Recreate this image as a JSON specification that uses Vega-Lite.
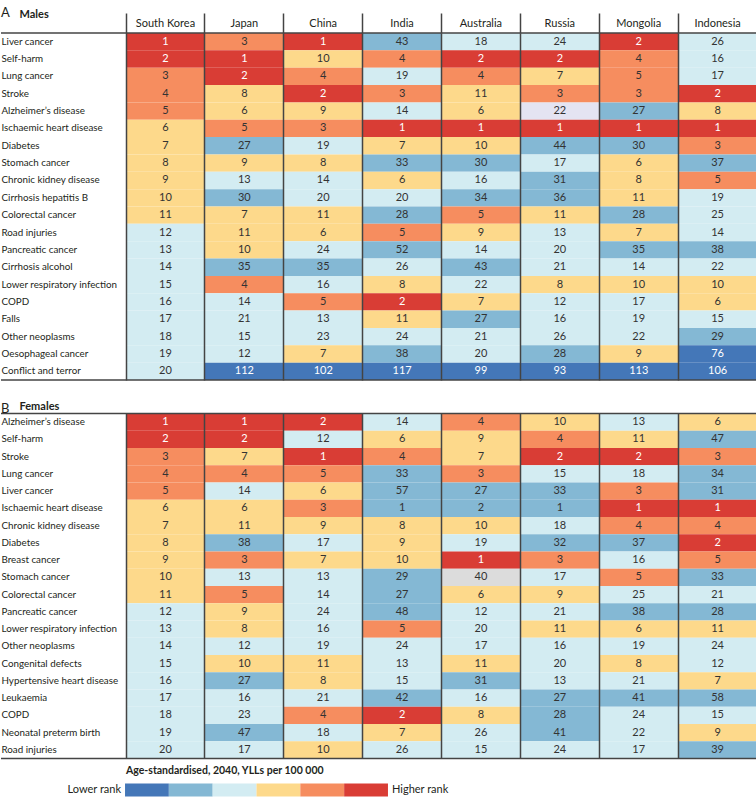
{
"$schema": "https://vega.github.io/schema/vega-lite/v6.json",
"padding": {"top": 7, "left": 0, "right": 0, "bottom": 0},
"config": {"font": "Lato", "view": {"stroke": null}},
"bounds": "flush",
"spacing": 33.5,
"resolve": {"scale": {"x": "independent", "y": "independent", "color": "shared"}},
"datasets": {
"males": [
{"c":"Liver cancer","n":"South Korea","r":1,"l":"R"},{"c":"Liver cancer","n":"Japan","r":3,"l":"O"},{"c":"Liver cancer","n":"China","r":1,"l":"R"},{"c":"Liver cancer","n":"India","r":43,"l":"MB"},{"c":"Liver cancer","n":"Australia","r":18,"l":"LB"},{"c":"Liver cancer","n":"Russia","r":24,"l":"LB"},{"c":"Liver cancer","n":"Mongolia","r":2,"l":"R"},{"c":"Liver cancer","n":"Indonesia","r":26,"l":"LB"},
{"c":"Self-harm","n":"South Korea","r":2,"l":"R"},{"c":"Self-harm","n":"Japan","r":1,"l":"R"},{"c":"Self-harm","n":"China","r":10,"l":"Y"},{"c":"Self-harm","n":"India","r":4,"l":"O"},{"c":"Self-harm","n":"Australia","r":2,"l":"R"},{"c":"Self-harm","n":"Russia","r":2,"l":"R"},{"c":"Self-harm","n":"Mongolia","r":4,"l":"O"},{"c":"Self-harm","n":"Indonesia","r":16,"l":"LB"},
{"c":"Lung cancer","n":"South Korea","r":3,"l":"O"},{"c":"Lung cancer","n":"Japan","r":2,"l":"R"},{"c":"Lung cancer","n":"China","r":4,"l":"O"},{"c":"Lung cancer","n":"India","r":19,"l":"LB"},{"c":"Lung cancer","n":"Australia","r":4,"l":"O"},{"c":"Lung cancer","n":"Russia","r":7,"l":"Y"},{"c":"Lung cancer","n":"Mongolia","r":5,"l":"O"},{"c":"Lung cancer","n":"Indonesia","r":17,"l":"LB"},
{"c":"Stroke","n":"South Korea","r":4,"l":"O"},{"c":"Stroke","n":"Japan","r":8,"l":"Y"},{"c":"Stroke","n":"China","r":2,"l":"R"},{"c":"Stroke","n":"India","r":3,"l":"O"},{"c":"Stroke","n":"Australia","r":11,"l":"Y"},{"c":"Stroke","n":"Russia","r":3,"l":"O"},{"c":"Stroke","n":"Mongolia","r":3,"l":"O"},{"c":"Stroke","n":"Indonesia","r":2,"l":"R"},
{"c":"Alzheimer’s disease","n":"South Korea","r":5,"l":"O"},{"c":"Alzheimer’s disease","n":"Japan","r":6,"l":"Y"},{"c":"Alzheimer’s disease","n":"China","r":9,"l":"Y"},{"c":"Alzheimer’s disease","n":"India","r":14,"l":"LB"},{"c":"Alzheimer’s disease","n":"Australia","r":6,"l":"Y"},{"c":"Alzheimer’s disease","n":"Russia","r":22,"l":"L"},{"c":"Alzheimer’s disease","n":"Mongolia","r":27,"l":"MB"},{"c":"Alzheimer’s disease","n":"Indonesia","r":8,"l":"Y"},
{"c":"Ischaemic heart disease","n":"South Korea","r":6,"l":"Y"},{"c":"Ischaemic heart disease","n":"Japan","r":5,"l":"O"},{"c":"Ischaemic heart disease","n":"China","r":3,"l":"O"},{"c":"Ischaemic heart disease","n":"India","r":1,"l":"R"},{"c":"Ischaemic heart disease","n":"Australia","r":1,"l":"R"},{"c":"Ischaemic heart disease","n":"Russia","r":1,"l":"R"},{"c":"Ischaemic heart disease","n":"Mongolia","r":1,"l":"R"},{"c":"Ischaemic heart disease","n":"Indonesia","r":1,"l":"R"},
{"c":"Diabetes","n":"South Korea","r":7,"l":"Y"},{"c":"Diabetes","n":"Japan","r":27,"l":"MB"},{"c":"Diabetes","n":"China","r":19,"l":"LB"},{"c":"Diabetes","n":"India","r":7,"l":"Y"},{"c":"Diabetes","n":"Australia","r":10,"l":"Y"},{"c":"Diabetes","n":"Russia","r":44,"l":"MB"},{"c":"Diabetes","n":"Mongolia","r":30,"l":"MB"},{"c":"Diabetes","n":"Indonesia","r":3,"l":"O"},
{"c":"Stomach cancer","n":"South Korea","r":8,"l":"Y"},{"c":"Stomach cancer","n":"Japan","r":9,"l":"Y"},{"c":"Stomach cancer","n":"China","r":8,"l":"Y"},{"c":"Stomach cancer","n":"India","r":33,"l":"MB"},{"c":"Stomach cancer","n":"Australia","r":30,"l":"MB"},{"c":"Stomach cancer","n":"Russia","r":17,"l":"LB"},{"c":"Stomach cancer","n":"Mongolia","r":6,"l":"Y"},{"c":"Stomach cancer","n":"Indonesia","r":37,"l":"MB"},
{"c":"Chronic kidney disease","n":"South Korea","r":9,"l":"Y"},{"c":"Chronic kidney disease","n":"Japan","r":13,"l":"LB"},{"c":"Chronic kidney disease","n":"China","r":14,"l":"LB"},{"c":"Chronic kidney disease","n":"India","r":6,"l":"Y"},{"c":"Chronic kidney disease","n":"Australia","r":16,"l":"LB"},{"c":"Chronic kidney disease","n":"Russia","r":31,"l":"MB"},{"c":"Chronic kidney disease","n":"Mongolia","r":8,"l":"Y"},{"c":"Chronic kidney disease","n":"Indonesia","r":5,"l":"O"},
{"c":"Cirrhosis hepatitis B","n":"South Korea","r":10,"l":"Y"},{"c":"Cirrhosis hepatitis B","n":"Japan","r":30,"l":"MB"},{"c":"Cirrhosis hepatitis B","n":"China","r":20,"l":"LB"},{"c":"Cirrhosis hepatitis B","n":"India","r":20,"l":"LB"},{"c":"Cirrhosis hepatitis B","n":"Australia","r":34,"l":"MB"},{"c":"Cirrhosis hepatitis B","n":"Russia","r":36,"l":"MB"},{"c":"Cirrhosis hepatitis B","n":"Mongolia","r":11,"l":"Y"},{"c":"Cirrhosis hepatitis B","n":"Indonesia","r":19,"l":"LB"},
{"c":"Colorectal cancer","n":"South Korea","r":11,"l":"Y"},{"c":"Colorectal cancer","n":"Japan","r":7,"l":"Y"},{"c":"Colorectal cancer","n":"China","r":11,"l":"Y"},{"c":"Colorectal cancer","n":"India","r":28,"l":"MB"},{"c":"Colorectal cancer","n":"Australia","r":5,"l":"O"},{"c":"Colorectal cancer","n":"Russia","r":11,"l":"Y"},{"c":"Colorectal cancer","n":"Mongolia","r":28,"l":"MB"},{"c":"Colorectal cancer","n":"Indonesia","r":25,"l":"LB"},
{"c":"Road injuries","n":"South Korea","r":12,"l":"LB"},{"c":"Road injuries","n":"Japan","r":11,"l":"Y"},{"c":"Road injuries","n":"China","r":6,"l":"Y"},{"c":"Road injuries","n":"India","r":5,"l":"O"},{"c":"Road injuries","n":"Australia","r":9,"l":"Y"},{"c":"Road injuries","n":"Russia","r":13,"l":"LB"},{"c":"Road injuries","n":"Mongolia","r":7,"l":"Y"},{"c":"Road injuries","n":"Indonesia","r":14,"l":"LB"},
{"c":"Pancreatic cancer","n":"South Korea","r":13,"l":"LB"},{"c":"Pancreatic cancer","n":"Japan","r":10,"l":"Y"},{"c":"Pancreatic cancer","n":"China","r":24,"l":"LB"},{"c":"Pancreatic cancer","n":"India","r":52,"l":"MB"},{"c":"Pancreatic cancer","n":"Australia","r":14,"l":"LB"},{"c":"Pancreatic cancer","n":"Russia","r":20,"l":"LB"},{"c":"Pancreatic cancer","n":"Mongolia","r":35,"l":"MB"},{"c":"Pancreatic cancer","n":"Indonesia","r":38,"l":"MB"},
{"c":"Cirrhosis alcohol","n":"South Korea","r":14,"l":"LB"},{"c":"Cirrhosis alcohol","n":"Japan","r":35,"l":"MB"},{"c":"Cirrhosis alcohol","n":"China","r":35,"l":"MB"},{"c":"Cirrhosis alcohol","n":"India","r":26,"l":"LB"},{"c":"Cirrhosis alcohol","n":"Australia","r":43,"l":"MB"},{"c":"Cirrhosis alcohol","n":"Russia","r":21,"l":"LB"},{"c":"Cirrhosis alcohol","n":"Mongolia","r":14,"l":"LB"},{"c":"Cirrhosis alcohol","n":"Indonesia","r":22,"l":"LB"},
{"c":"Lower respiratory infection","n":"South Korea","r":15,"l":"LB"},{"c":"Lower respiratory infection","n":"Japan","r":4,"l":"O"},{"c":"Lower respiratory infection","n":"China","r":16,"l":"LB"},{"c":"Lower respiratory infection","n":"India","r":8,"l":"Y"},{"c":"Lower respiratory infection","n":"Australia","r":22,"l":"LB"},{"c":"Lower respiratory infection","n":"Russia","r":8,"l":"Y"},{"c":"Lower respiratory infection","n":"Mongolia","r":10,"l":"Y"},{"c":"Lower respiratory infection","n":"Indonesia","r":10,"l":"Y"},
{"c":"COPD","n":"South Korea","r":16,"l":"LB"},{"c":"COPD","n":"Japan","r":14,"l":"LB"},{"c":"COPD","n":"China","r":5,"l":"O"},{"c":"COPD","n":"India","r":2,"l":"R"},{"c":"COPD","n":"Australia","r":7,"l":"Y"},{"c":"COPD","n":"Russia","r":12,"l":"LB"},{"c":"COPD","n":"Mongolia","r":17,"l":"LB"},{"c":"COPD","n":"Indonesia","r":6,"l":"Y"},
{"c":"Falls","n":"South Korea","r":17,"l":"LB"},{"c":"Falls","n":"Japan","r":21,"l":"LB"},{"c":"Falls","n":"China","r":13,"l":"LB"},{"c":"Falls","n":"India","r":11,"l":"Y"},{"c":"Falls","n":"Australia","r":27,"l":"MB"},{"c":"Falls","n":"Russia","r":16,"l":"LB"},{"c":"Falls","n":"Mongolia","r":19,"l":"LB"},{"c":"Falls","n":"Indonesia","r":15,"l":"LB"},
{"c":"Other neoplasms","n":"South Korea","r":18,"l":"LB"},{"c":"Other neoplasms","n":"Japan","r":15,"l":"LB"},{"c":"Other neoplasms","n":"China","r":23,"l":"LB"},{"c":"Other neoplasms","n":"India","r":24,"l":"LB"},{"c":"Other neoplasms","n":"Australia","r":21,"l":"LB"},{"c":"Other neoplasms","n":"Russia","r":26,"l":"LB"},{"c":"Other neoplasms","n":"Mongolia","r":22,"l":"LB"},{"c":"Other neoplasms","n":"Indonesia","r":29,"l":"MB"},
{"c":"Oesophageal cancer","n":"South Korea","r":19,"l":"LB"},{"c":"Oesophageal cancer","n":"Japan","r":12,"l":"LB"},{"c":"Oesophageal cancer","n":"China","r":7,"l":"Y"},{"c":"Oesophageal cancer","n":"India","r":38,"l":"MB"},{"c":"Oesophageal cancer","n":"Australia","r":20,"l":"LB"},{"c":"Oesophageal cancer","n":"Russia","r":28,"l":"MB"},{"c":"Oesophageal cancer","n":"Mongolia","r":9,"l":"Y"},{"c":"Oesophageal cancer","n":"Indonesia","r":76,"l":"DB"},
{"c":"Conflict and terror","n":"South Korea","r":20,"l":"LB"},{"c":"Conflict and terror","n":"Japan","r":112,"l":"DB"},{"c":"Conflict and terror","n":"China","r":102,"l":"DB"},{"c":"Conflict and terror","n":"India","r":117,"l":"DB"},{"c":"Conflict and terror","n":"Australia","r":99,"l":"DB"},{"c":"Conflict and terror","n":"Russia","r":93,"l":"DB"},{"c":"Conflict and terror","n":"Mongolia","r":113,"l":"DB"},{"c":"Conflict and terror","n":"Indonesia","r":106,"l":"DB"}
],
"females": [
{"c":"Alzheimer’s disease","n":"South Korea","r":1,"l":"R"},{"c":"Alzheimer’s disease","n":"Japan","r":1,"l":"R"},{"c":"Alzheimer’s disease","n":"China","r":2,"l":"R"},{"c":"Alzheimer’s disease","n":"India","r":14,"l":"LB"},{"c":"Alzheimer’s disease","n":"Australia","r":4,"l":"O"},{"c":"Alzheimer’s disease","n":"Russia","r":10,"l":"Y"},{"c":"Alzheimer’s disease","n":"Mongolia","r":13,"l":"LB"},{"c":"Alzheimer’s disease","n":"Indonesia","r":6,"l":"Y"},
{"c":"Self-harm","n":"South Korea","r":2,"l":"R"},{"c":"Self-harm","n":"Japan","r":2,"l":"R"},{"c":"Self-harm","n":"China","r":12,"l":"LB"},{"c":"Self-harm","n":"India","r":6,"l":"Y"},{"c":"Self-harm","n":"Australia","r":9,"l":"Y"},{"c":"Self-harm","n":"Russia","r":4,"l":"O"},{"c":"Self-harm","n":"Mongolia","r":11,"l":"Y"},{"c":"Self-harm","n":"Indonesia","r":47,"l":"MB"},
{"c":"Stroke","n":"South Korea","r":3,"l":"O"},{"c":"Stroke","n":"Japan","r":7,"l":"Y"},{"c":"Stroke","n":"China","r":1,"l":"R"},{"c":"Stroke","n":"India","r":4,"l":"O"},{"c":"Stroke","n":"Australia","r":7,"l":"Y"},{"c":"Stroke","n":"Russia","r":2,"l":"R"},{"c":"Stroke","n":"Mongolia","r":2,"l":"R"},{"c":"Stroke","n":"Indonesia","r":3,"l":"O"},
{"c":"Lung cancer","n":"South Korea","r":4,"l":"O"},{"c":"Lung cancer","n":"Japan","r":4,"l":"O"},{"c":"Lung cancer","n":"China","r":5,"l":"O"},{"c":"Lung cancer","n":"India","r":33,"l":"MB"},{"c":"Lung cancer","n":"Australia","r":3,"l":"O"},{"c":"Lung cancer","n":"Russia","r":15,"l":"LB"},{"c":"Lung cancer","n":"Mongolia","r":18,"l":"LB"},{"c":"Lung cancer","n":"Indonesia","r":34,"l":"MB"},
{"c":"Liver cancer","n":"South Korea","r":5,"l":"O"},{"c":"Liver cancer","n":"Japan","r":14,"l":"LB"},{"c":"Liver cancer","n":"China","r":6,"l":"Y"},{"c":"Liver cancer","n":"India","r":57,"l":"MB"},{"c":"Liver cancer","n":"Australia","r":27,"l":"MB"},{"c":"Liver cancer","n":"Russia","r":33,"l":"MB"},{"c":"Liver cancer","n":"Mongolia","r":3,"l":"O"},{"c":"Liver cancer","n":"Indonesia","r":31,"l":"MB"},
{"c":"Ischaemic heart disease","n":"South Korea","r":6,"l":"Y"},{"c":"Ischaemic heart disease","n":"Japan","r":6,"l":"Y"},{"c":"Ischaemic heart disease","n":"China","r":3,"l":"O"},{"c":"Ischaemic heart disease","n":"India","r":1,"l":"MB"},{"c":"Ischaemic heart disease","n":"Australia","r":2,"l":"MB"},{"c":"Ischaemic heart disease","n":"Russia","r":1,"l":"MB"},{"c":"Ischaemic heart disease","n":"Mongolia","r":1,"l":"R"},{"c":"Ischaemic heart disease","n":"Indonesia","r":1,"l":"R"},
{"c":"Chronic kidney disease","n":"South Korea","r":7,"l":"Y"},{"c":"Chronic kidney disease","n":"Japan","r":11,"l":"Y"},{"c":"Chronic kidney disease","n":"China","r":9,"l":"Y"},{"c":"Chronic kidney disease","n":"India","r":8,"l":"Y"},{"c":"Chronic kidney disease","n":"Australia","r":10,"l":"Y"},{"c":"Chronic kidney disease","n":"Russia","r":18,"l":"LB"},{"c":"Chronic kidney disease","n":"Mongolia","r":4,"l":"O"},{"c":"Chronic kidney disease","n":"Indonesia","r":4,"l":"O"},
{"c":"Diabetes","n":"South Korea","r":8,"l":"Y"},{"c":"Diabetes","n":"Japan","r":38,"l":"MB"},{"c":"Diabetes","n":"China","r":17,"l":"LB"},{"c":"Diabetes","n":"India","r":9,"l":"Y"},{"c":"Diabetes","n":"Australia","r":19,"l":"LB"},{"c":"Diabetes","n":"Russia","r":32,"l":"MB"},{"c":"Diabetes","n":"Mongolia","r":37,"l":"MB"},{"c":"Diabetes","n":"Indonesia","r":2,"l":"R"},
{"c":"Breast cancer","n":"South Korea","r":9,"l":"Y"},{"c":"Breast cancer","n":"Japan","r":3,"l":"O"},{"c":"Breast cancer","n":"China","r":7,"l":"Y"},{"c":"Breast cancer","n":"India","r":10,"l":"Y"},{"c":"Breast cancer","n":"Australia","r":1,"l":"R"},{"c":"Breast cancer","n":"Russia","r":3,"l":"O"},{"c":"Breast cancer","n":"Mongolia","r":16,"l":"LB"},{"c":"Breast cancer","n":"Indonesia","r":5,"l":"O"},
{"c":"Stomach cancer","n":"South Korea","r":10,"l":"Y"},{"c":"Stomach cancer","n":"Japan","r":13,"l":"LB"},{"c":"Stomach cancer","n":"China","r":13,"l":"LB"},{"c":"Stomach cancer","n":"India","r":29,"l":"MB"},{"c":"Stomach cancer","n":"Australia","r":40,"l":"G"},{"c":"Stomach cancer","n":"Russia","r":17,"l":"LB"},{"c":"Stomach cancer","n":"Mongolia","r":5,"l":"O"},{"c":"Stomach cancer","n":"Indonesia","r":33,"l":"MB"},
{"c":"Colorectal cancer","n":"South Korea","r":11,"l":"Y"},{"c":"Colorectal cancer","n":"Japan","r":5,"l":"O"},{"c":"Colorectal cancer","n":"China","r":14,"l":"LB"},{"c":"Colorectal cancer","n":"India","r":27,"l":"MB"},{"c":"Colorectal cancer","n":"Australia","r":6,"l":"Y"},{"c":"Colorectal cancer","n":"Russia","r":9,"l":"Y"},{"c":"Colorectal cancer","n":"Mongolia","r":25,"l":"LB"},{"c":"Colorectal cancer","n":"Indonesia","r":21,"l":"LB"},
{"c":"Pancreatic cancer","n":"South Korea","r":12,"l":"LB"},{"c":"Pancreatic cancer","n":"Japan","r":9,"l":"Y"},{"c":"Pancreatic cancer","n":"China","r":24,"l":"LB"},{"c":"Pancreatic cancer","n":"India","r":48,"l":"MB"},{"c":"Pancreatic cancer","n":"Australia","r":12,"l":"LB"},{"c":"Pancreatic cancer","n":"Russia","r":21,"l":"LB"},{"c":"Pancreatic cancer","n":"Mongolia","r":38,"l":"MB"},{"c":"Pancreatic cancer","n":"Indonesia","r":28,"l":"MB"},
{"c":"Lower respiratory infection","n":"South Korea","r":13,"l":"LB"},{"c":"Lower respiratory infection","n":"Japan","r":8,"l":"Y"},{"c":"Lower respiratory infection","n":"China","r":16,"l":"LB"},{"c":"Lower respiratory infection","n":"India","r":5,"l":"O"},{"c":"Lower respiratory infection","n":"Australia","r":20,"l":"LB"},{"c":"Lower respiratory infection","n":"Russia","r":11,"l":"Y"},{"c":"Lower respiratory infection","n":"Mongolia","r":6,"l":"Y"},{"c":"Lower respiratory infection","n":"Indonesia","r":11,"l":"Y"},
{"c":"Other neoplasms","n":"South Korea","r":14,"l":"LB"},{"c":"Other neoplasms","n":"Japan","r":12,"l":"LB"},{"c":"Other neoplasms","n":"China","r":19,"l":"LB"},{"c":"Other neoplasms","n":"India","r":24,"l":"LB"},{"c":"Other neoplasms","n":"Australia","r":17,"l":"LB"},{"c":"Other neoplasms","n":"Russia","r":16,"l":"LB"},{"c":"Other neoplasms","n":"Mongolia","r":19,"l":"LB"},{"c":"Other neoplasms","n":"Indonesia","r":24,"l":"LB"},
{"c":"Congenital defects","n":"South Korea","r":15,"l":"LB"},{"c":"Congenital defects","n":"Japan","r":10,"l":"Y"},{"c":"Congenital defects","n":"China","r":11,"l":"Y"},{"c":"Congenital defects","n":"India","r":13,"l":"LB"},{"c":"Congenital defects","n":"Australia","r":11,"l":"Y"},{"c":"Congenital defects","n":"Russia","r":20,"l":"LB"},{"c":"Congenital defects","n":"Mongolia","r":8,"l":"Y"},{"c":"Congenital defects","n":"Indonesia","r":12,"l":"LB"},
{"c":"Hypertensive heart disease","n":"South Korea","r":16,"l":"LB"},{"c":"Hypertensive heart disease","n":"Japan","r":27,"l":"MB"},{"c":"Hypertensive heart disease","n":"China","r":8,"l":"Y"},{"c":"Hypertensive heart disease","n":"India","r":15,"l":"LB"},{"c":"Hypertensive heart disease","n":"Australia","r":31,"l":"MB"},{"c":"Hypertensive heart disease","n":"Russia","r":13,"l":"LB"},{"c":"Hypertensive heart disease","n":"Mongolia","r":21,"l":"LB"},{"c":"Hypertensive heart disease","n":"Indonesia","r":7,"l":"Y"},
{"c":"Leukaemia","n":"South Korea","r":17,"l":"LB"},{"c":"Leukaemia","n":"Japan","r":16,"l":"LB"},{"c":"Leukaemia","n":"China","r":21,"l":"LB"},{"c":"Leukaemia","n":"India","r":42,"l":"MB"},{"c":"Leukaemia","n":"Australia","r":16,"l":"LB"},{"c":"Leukaemia","n":"Russia","r":27,"l":"MB"},{"c":"Leukaemia","n":"Mongolia","r":41,"l":"MB"},{"c":"Leukaemia","n":"Indonesia","r":58,"l":"MB"},
{"c":"COPD","n":"South Korea","r":18,"l":"LB"},{"c":"COPD","n":"Japan","r":23,"l":"LB"},{"c":"COPD","n":"China","r":4,"l":"O"},{"c":"COPD","n":"India","r":2,"l":"R"},{"c":"COPD","n":"Australia","r":8,"l":"Y"},{"c":"COPD","n":"Russia","r":28,"l":"MB"},{"c":"COPD","n":"Mongolia","r":24,"l":"LB"},{"c":"COPD","n":"Indonesia","r":15,"l":"LB"},
{"c":"Neonatal preterm birth","n":"South Korea","r":19,"l":"LB"},{"c":"Neonatal preterm birth","n":"Japan","r":47,"l":"MB"},{"c":"Neonatal preterm birth","n":"China","r":18,"l":"LB"},{"c":"Neonatal preterm birth","n":"India","r":7,"l":"Y"},{"c":"Neonatal preterm birth","n":"Australia","r":26,"l":"LB"},{"c":"Neonatal preterm birth","n":"Russia","r":41,"l":"MB"},{"c":"Neonatal preterm birth","n":"Mongolia","r":22,"l":"LB"},{"c":"Neonatal preterm birth","n":"Indonesia","r":9,"l":"Y"},
{"c":"Road injuries","n":"South Korea","r":20,"l":"LB"},{"c":"Road injuries","n":"Japan","r":17,"l":"LB"},{"c":"Road injuries","n":"China","r":10,"l":"Y"},{"c":"Road injuries","n":"India","r":26,"l":"LB"},{"c":"Road injuries","n":"Australia","r":15,"l":"LB"},{"c":"Road injuries","n":"Russia","r":24,"l":"LB"},{"c":"Road injuries","n":"Mongolia","r":17,"l":"LB"},{"c":"Road injuries","n":"Indonesia","r":39,"l":"MB"}
]
},
"vconcat": [
{
"width": 756, "height": 347,
"data": {"name": "males"},
"title": {"text": "A", "anchor": "start", "frame": "group", "fontSize": 13, "fontWeight": "normal", "color": "#231f20", "offset": -12},
"layer": [
{
"encoding": {
"x": {"field": "n", "type": "nominal", "sort": ["South Korea","Japan","China","India","Australia","Russia","Mongolia","Indonesia"],
"scale": {"range": [125, 756], "paddingInner": 0, "paddingOuter": 0},
"axis": {"orient": "top", "title": "Males", "titleX": 18, "titleY": -16, "titleAlign": "left", "titleBaseline": "alphabetic", "titleFontSize": 11, "titleFontWeight": "bold", "titleColor": "#231f20",
"bandPosition": 0, "labelAngle": 0, "labelFontSize": 11, "labelColor": "#231f20", "labelPadding": -15,
"ticks": true, "tickSize": 20, "tickColor": "#444", "tickWidth": 1.5, "domain": false,
"grid": true, "gridColor": "#444", "gridWidth": 1.5, "gridOpacity": 1, "zindex": 1}},
"y": {"field": "c", "type": "nominal", "sort": null,
"scale": {"paddingInner": 0, "paddingOuter": 0},
"axis": {"title": null, "ticks": false, "domain": false, "grid": false, "labelAlign": "left", "labelPadding": 0, "labelFontSize": 9.8, "labelColor": "#231f20", "labelLimit": 124}}
},
"layer": [
{"mark": {"type": "rect"},
"encoding": {"color": {"field": "l", "type": "nominal", "legend": null,
"scale": {"domain": ["DB","MB","LB","Y","O","R","L","G"], "range": ["#4477b8","#84b8d4","#d3ecf2","#fdd98b","#f68d5f","#d93d35","#e4e4f2","#dcdcdc"]}}}},
{"mark": {"type": "text", "fontSize": 11},
"encoding": {"text": {"field": "r", "type": "quantitative"},
"color": {"condition": {"test": "datum.l == 'R' || datum.l == 'DB'", "value": "#ffffff"}, "value": "#333333"}}}
]
},
{"transform": [{"filter": "datum.c == 'Liver cancer' && datum.n == 'South Korea'"}],
"mark": {"type": "rule", "color": "#444", "strokeWidth": 1.5},
"encoding": {"y": {"field": "c", "type": "nominal", "sort": null, "bandPosition": 0,
"axis": {"title": null, "ticks": false, "domain": false, "grid": false, "labelAlign": "left", "labelPadding": 0, "labelFontSize": 9.8, "labelColor": "#231f20", "labelLimit": 124}}}},
{"transform": [{"filter": "datum.c == 'Conflict and terror' && datum.n == 'South Korea'"}],
"mark": {"type": "rule", "color": "#444", "strokeWidth": 1.5},
"encoding": {"y": {"field": "c", "type": "nominal", "sort": null, "bandPosition": 1,
"axis": {"title": null, "ticks": false, "domain": false, "grid": false, "labelAlign": "left", "labelPadding": 0, "labelFontSize": 9.8, "labelColor": "#231f20", "labelLimit": 124}}}}
]
},
{
"bounds": "flush",
"spacing": 25,
"resolve": {"scale": {"x": "independent", "y": "independent", "color": "shared"}},
"vconcat": [
{
"width": 756, "height": 345,
"data": {"name": "females"},
"title": {"text": "B", "anchor": "start", "frame": "group", "fontSize": 13, "fontWeight": "normal", "color": "#231f20", "offset": -15},
"layer": [
{
"encoding": {
"x": {"field": "n", "type": "nominal", "sort": ["South Korea","Japan","China","India","Australia","Russia","Mongolia","Indonesia"],
"scale": {"range": [125, 756], "paddingInner": 0, "paddingOuter": 0},
"axis": {"orient": "top", "title": "Females", "titleX": 18, "titleY": -4, "titleAlign": "left", "titleBaseline": "alphabetic", "titleFontSize": 11, "titleFontWeight": "bold", "titleColor": "#231f20",
"bandPosition": 0, "labels": false, "ticks": false, "domain": false,
"grid": true, "gridColor": "#444", "gridWidth": 1.5, "gridOpacity": 1, "zindex": 1}},
"y": {"field": "c", "type": "nominal", "sort": null,
"scale": {"paddingInner": 0, "paddingOuter": 0},
"axis": {"title": null, "ticks": false, "domain": false, "grid": false, "labelAlign": "left", "labelPadding": 0, "labelFontSize": 9.8, "labelColor": "#231f20", "labelLimit": 124}}
},
"layer": [
{"mark": {"type": "rect"},
"encoding": {"color": {"field": "l", "type": "nominal", "legend": null,
"scale": {"domain": ["DB","MB","LB","Y","O","R","L","G"], "range": ["#4477b8","#84b8d4","#d3ecf2","#fdd98b","#f68d5f","#d93d35","#e4e4f2","#dcdcdc"]}}}},
{"mark": {"type": "text", "fontSize": 11},
"encoding": {"text": {"field": "r", "type": "quantitative"},
"color": {"condition": {"test": "datum.l == 'R' || datum.l == 'DB'", "value": "#ffffff"}, "value": "#333333"}}}
]
},
{"transform": [{"filter": "datum.c == 'Alzheimer’s disease' && datum.n == 'South Korea'"}],
"mark": {"type": "rule", "color": "#444", "strokeWidth": 1.5},
"encoding": {"y": {"field": "c", "type": "nominal", "sort": null, "bandPosition": 0,
"axis": {"title": null, "ticks": false, "domain": false, "grid": false, "labelAlign": "left", "labelPadding": 0, "labelFontSize": 9.8, "labelColor": "#231f20", "labelLimit": 124}}}},
{"transform": [{"filter": "datum.c == 'Road injuries' && datum.n == 'South Korea'"}],
"mark": {"type": "rule", "color": "#444", "strokeWidth": 1.5},
"encoding": {"y": {"field": "c", "type": "nominal", "sort": null, "bandPosition": 1,
"axis": {"title": null, "ticks": false, "domain": false, "grid": false, "labelAlign": "left", "labelPadding": 0, "labelFontSize": 9.8, "labelColor": "#231f20", "labelLimit": 124}}}}
]
},
{
"width": 756, "height": 13,
"title": {"text": "Age-standardised, 2040, YLLs per 100 000", "anchor": "start", "frame": "group", "dx": 125, "fontSize": 10.5, "fontWeight": "bold", "color": "#231f20", "offset": 7},
"data": {"values": [{"l": "Lower rank"}, {"l": "DB"}, {"l": "MB"}, {"l": "LB"}, {"l": "Y"}, {"l": "O"}, {"l": "R"}, {"l": "Higher rank"}]},
"layer": [
{"transform": [{"filter": "datum.l != 'Lower rank' && datum.l != 'Higher rank'"}],
"mark": {"type": "rect"},
"encoding": {
"x": {"field": "l", "type": "nominal", "sort": null, "axis": null,
"scale": {"domain": ["Lower rank","DB","MB","LB","Y","O","R","Higher rank"], "range": [80.2, 430.8], "paddingInner": 0, "paddingOuter": 0}},
"color": {"field": "l", "type": "nominal", "legend": null,
"scale": {"domain": ["DB","MB","LB","Y","O","R","L","G"], "range": ["#4477b8","#84b8d4","#d3ecf2","#fdd98b","#f68d5f","#d93d35","#e4e4f2","#dcdcdc"]}}}},
{"transform": [{"filter": "datum.l == 'Lower rank'"}],
"mark": {"type": "text", "align": "right", "dx": -4, "fontSize": 11, "color": "#231f20"},
"encoding": {"x": {"field": "l", "type": "nominal", "sort": null, "bandPosition": 1, "axis": null}, "text": {"field": "l"}}},
{"transform": [{"filter": "datum.l == 'Higher rank'"}],
"mark": {"type": "text", "align": "left", "dx": 4, "fontSize": 11, "color": "#231f20"},
"encoding": {"x": {"field": "l", "type": "nominal", "sort": null, "bandPosition": 0, "axis": null}, "text": {"field": "l"}}}
]
}
]
}
]
}
